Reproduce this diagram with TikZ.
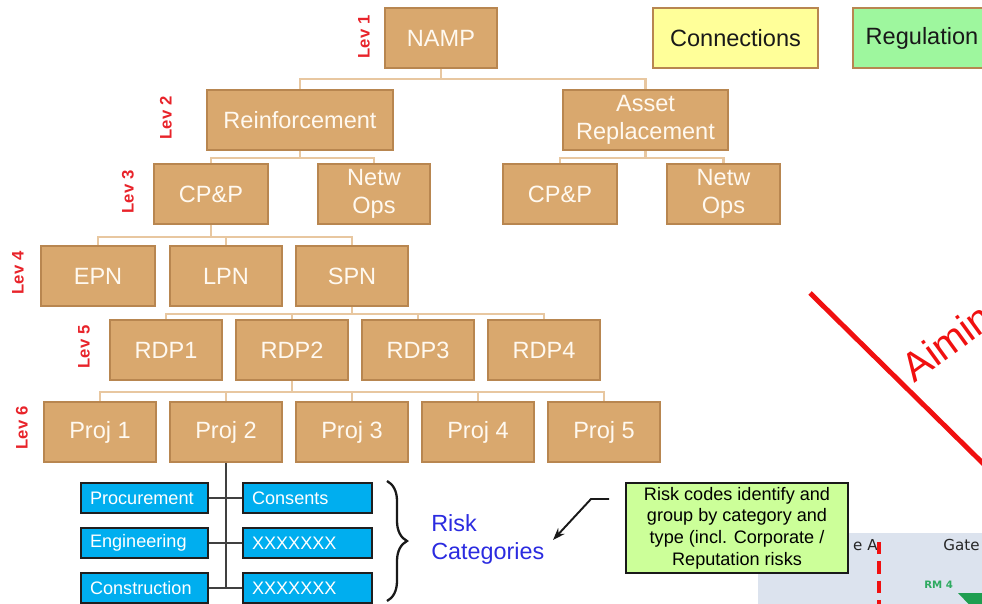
\documentclass[tikz,border=0pt]{standalone}
\usepackage{fontspec}
\setmainfont{Liberation Sans}
\newfontfamily\dejavu{DejaVu Sans}
\usetikzlibrary{decorations.pathreplacing,arrows.meta,calc}
\definecolor{boxfill}{HTML}{D9A86E}
\definecolor{boxline}{HTML}{B88650}
\definecolor{boxtext}{HTML}{FFF9F0}
\definecolor{connc}{HTML}{E8C7A0}
\definecolor{levred}{HTML}{E8232A}
\definecolor{connfill}{HTML}{FFFF99}
\definecolor{regfill}{HTML}{9EF79E}
\definecolor{bluefill}{HTML}{00AEEF}
\definecolor{riskblue}{HTML}{2B2BE0}
\definecolor{notefill}{HTML}{CCFF99}
\definecolor{scenebg}{HTML}{DCE3EE}
\definecolor{rmgreen}{HTML}{2EAA60}
\definecolor{trigreen}{HTML}{1E9E50}
\definecolor{linered}{HTML}{F01010}
\tikzset{
  box/.style={draw=boxline, fill=boxfill, line width=1.1pt, text=boxtext,
    font=\fontsize{13.4}{15.8}\selectfont, minimum height=1.2cm, inner sep=0pt, align=center},
  topbox/.style={box, text=black!90},
  conn/.style={draw=connc, line width=1.3pt},
  lev/.style={text=levred, font=\bfseries\fontsize{9.5}{11}\selectfont, rotate=90, inner sep=0pt},
  bbox/.style={draw=black!88, fill=bluefill, line width=1.3pt, text=white,
    font=\fontsize{10.3}{12}\selectfont, minimum height=0.6cm, inner xsep=0.18cm, inner ysep=0pt, align=left},
  tline/.style={draw=black!75, line width=1.1pt},
}
\begin{document}
\begin{tikzpicture}[x=0.02cm,y=-0.02cm]
\useasboundingbox (0,0) rectangle (982,604);
\clip (0,0) rectangle (982,604);

% top level
\node[box,minimum width=2.24cm] (namp) at (441,38) {NAMP};
\node[topbox,fill=connfill,minimum width=3.3cm] (conns) at (735.5,38) {Connections};
\node[topbox,fill=regfill,minimum width=2.76cm] (reg) at (922,38) {Regulation};

% level 2
\node[box,minimum width=3.72cm] (reinf) at (300,120) {Reinforcement};
\node[box,minimum width=3.3cm] (asset) at (645.5,120) {Asset\\Replacement};

% level 3
\node[box,minimum width=2.28cm] (cpl) at (211,194) {CP\&P};
\node[box,minimum width=2.24cm] (nol) at (374,194) {Netw\\Ops};
\node[box,minimum width=2.28cm] (cpr) at (560,194) {CP\&P};
\node[box,minimum width=2.26cm] (nor) at (723.5,194) {Netw\\Ops};

% level 4
\node[box,minimum width=2.28cm] (epn) at (98,276) {EPN};
\node[box,minimum width=2.24cm] (lpn) at (226,276) {LPN};
\node[box,minimum width=2.24cm] (spn) at (352,276) {SPN};

% level 5
\node[box,minimum width=2.24cm] (rdp1) at (166,350) {RDP1};
\node[box,minimum width=2.24cm] (rdp2) at (292,350) {RDP2};
\node[box,minimum width=2.24cm] (rdp3) at (418,350) {RDP3};
\node[box,minimum width=2.24cm] (rdp4) at (544,350) {RDP4};

% level 6
\node[box,minimum width=2.24cm] (p1) at (100,432) {Proj 1};
\node[box,minimum width=2.24cm] (p2) at (226,432) {Proj 2};
\node[box,minimum width=2.24cm] (p3) at (352,432) {Proj 3};
\node[box,minimum width=2.24cm] (p4) at (478,432) {Proj 4};
\node[box,minimum width=2.24cm] (p5) at (604,432) {Proj 5};

% level labels
\node[lev] (l1) at (364,37) {Lev 1};
\node[lev] (l2) at (166,118) {Lev 2};
\node[lev] (l3) at (128,192) {Lev 3};
\node[lev] (l4) at (18,273) {Lev 4};
\node[lev] (l5) at (84,347) {Lev 5};
\node[lev] (l6) at (22,428) {Lev 6};

% tree connectors
\draw[conn] (namp.south) -- ++(0,10) -| (reinf.north);
\draw[conn] (namp.south) -- ++(0,10) -| (asset.north);
\draw[conn] (reinf.south) -- ++(0,7) -| (cpl.north);
\draw[conn] (reinf.south) -- ++(0,7) -| (nol.north);
\draw[conn] (asset.south) -- ++(0,7) -| (cpr.north);
\draw[conn] (asset.south) -- ++(0,7) -| (nor.north);
\foreach \c in {epn,lpn,spn}{\draw[conn] (cpl.south) -- ++(0,12) -| (\c.north);}
\foreach \c in {rdp1,rdp2,rdp3,rdp4}{\draw[conn] (spn.south) -- ++(0,7) -| (\c.north);}
\foreach \c in {p1,p2,p3,p4,p5}{\draw[conn] (rdp2.south) -- ++(0,11) -| (\c.north);}

% risk category boxes
\node[bbox,text width=2.18cm] (proc) at (144.5,498) {Procurement};
\node[bbox,text width=2.22cm] (cons) at (307.5,498) {Consents};
\node[bbox,text width=2.18cm] (eng) at (144.5,543) {Engineering};
\node[bbox,text width=2.22cm] (x1) at (307.5,543) {XXXXXXX};
\node[bbox,text width=2.18cm] (constr) at (144.5,588) {Construction};
\node[bbox,text width=2.22cm] (x2) at (307.5,588) {XXXXXXX};

\draw[tline] (p2.south) -- (p2.south |- constr.east);
\draw[tline] (proc.east) -- (cons.west);
\draw[tline] (eng.east) -- (x1.west);
\draw[tline] (constr.east) -- (x2.west);

% brace and label
\draw[decorate, decoration={brace, amplitude=0.4cm}, line width=1.3pt, black!90] (387,481) -- (387,601);
\node[anchor=west, text=riskblue, align=left, font=\fontsize{13.3}{15.9}\selectfont, inner sep=0pt] (risk) at (431,539) {Risk\\Categories};

% red diagonal
\draw[linered, line width=2.8pt] (810,293) -- (1010,490);
\node[anchor=base west, rotate=36, text=linered, font=\fontsize{23}{26}\selectfont, inner sep=0pt] (aim) at (914,384) {Aimin};

% partial scene bottom right
\fill[scenebg] (758,533) rectangle (995,610);
\node[anchor=base east, font=\dejavu\fontsize{8.6}{10}\selectfont, text=black!85, inner sep=0pt] (ea) at (878,550) {e A};
\node[anchor=base west, font=\dejavu\fontsize{8.6}{10}\selectfont, text=black!85, inner sep=0pt] (gate) at (943,550) {Gate};
\draw[linered, line width=2.2pt, dash pattern=on 7pt off 4pt] (879,542) -- (879,606);
\node[anchor=base west, font=\dejavu\bfseries\fontsize{5.8}{7}\selectfont, text=rmgreen, inner sep=0pt] (rm) at (924,588) {RM 4};
\fill[trigreen] (958,593) -- (1002,593) -- (980,616) -- cycle;

% note
\node[draw=black!90, fill=notefill, line width=1.3pt, minimum width=4.44cm, minimum height=1.8cm,
  align=center, font=\fontsize{10.3}{12.3}\selectfont, inner sep=0pt] (note) at (737,528)
  {Risk codes identify and\\group by category and\\type (incl. Corporate /\\Reputation risks};

\coordinate (a0) at (609,499);
\coordinate (a1) at (553,540);
\draw[line width=1.1pt, black!90, -{Stealth[length=7pt,width=5pt]}] (a0) -- (591,499) -- (a1);
\end{tikzpicture}
\end{document}
